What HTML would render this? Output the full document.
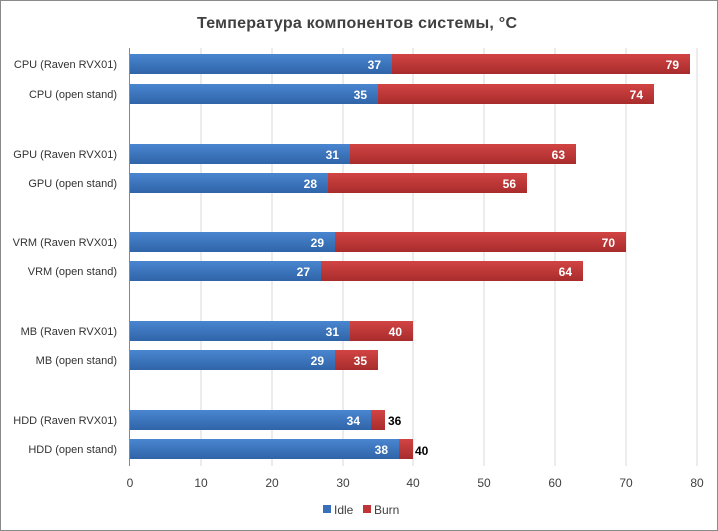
<!DOCTYPE html>
<html><head><meta charset="utf-8"><style>
body{margin:0;background:#fff}
svg{display:block;font-family:"Liberation Sans","DejaVu Sans",sans-serif}
</style></head><body>
<svg width="718" height="531" viewBox="0 0 718 531">
<defs>
<linearGradient id="b" x1="0" y1="0" x2="0" y2="1"><stop offset="0" stop-color="#4a86d0"/><stop offset="1" stop-color="#2f64a8"/></linearGradient>
<linearGradient id="r" x1="0" y1="0" x2="0" y2="1"><stop offset="0" stop-color="#d24444"/><stop offset="1" stop-color="#a82c2c"/></linearGradient>
</defs>
<rect x="0.5" y="0.5" width="717" height="530" fill="#fff" stroke="#8a8a8a"/>
<text x="357" y="28" text-anchor="middle" font-size="16" font-weight="bold" fill="#404040" textLength="320">Температура компонентов системы, °C</text>
<g stroke="#d9d9d9" stroke-width="1">
<line x1="201" y1="48" x2="201" y2="466"/><line x1="272" y1="48" x2="272" y2="466"/><line x1="343" y1="48" x2="343" y2="466"/><line x1="413" y1="48" x2="413" y2="466"/><line x1="484" y1="48" x2="484" y2="466"/><line x1="555" y1="48" x2="555" y2="466"/><line x1="626" y1="48" x2="626" y2="466"/><line x1="697" y1="48" x2="697" y2="466"/>
</g>
<line x1="129.5" y1="48" x2="129.5" y2="466" stroke="#888"/>
<g font-size="12" fill="#404040" text-anchor="middle">
<text x="130" y="487">0</text><text x="201" y="487">10</text><text x="272" y="487">20</text><text x="343" y="487">30</text><text x="413" y="487">40</text><text x="484" y="487">50</text><text x="555" y="487">60</text><text x="626" y="487">70</text><text x="697" y="487">80</text>
</g>
<g font-size="11" fill="#333" text-anchor="end">
<text x="117" y="68">CPU (Raven RVX01)</text><text x="117" y="98">CPU (open stand)</text>
<text x="117" y="158">GPU (Raven RVX01)</text><text x="117" y="187">GPU (open stand)</text>
<text x="117" y="246">VRM (Raven RVX01)</text><text x="117" y="275">VRM (open stand)</text>
<text x="117" y="335">MB (Raven RVX01)</text><text x="117" y="364">MB (open stand)</text>
<text x="117" y="424">HDD (Raven RVX01)</text><text x="117" y="453">HDD (open stand)</text>
</g>
<g>
<rect x="130" y="54" width="560" height="20" fill="url(#r)"/><rect x="130" y="54" width="262" height="20" fill="url(#b)"/>
<rect x="130" y="84" width="524" height="20" fill="url(#r)"/><rect x="130" y="84" width="248" height="20" fill="url(#b)"/>
<rect x="130" y="144" width="446" height="20" fill="url(#r)"/><rect x="130" y="144" width="220" height="20" fill="url(#b)"/>
<rect x="130" y="173" width="397" height="20" fill="url(#r)"/><rect x="130" y="173" width="198" height="20" fill="url(#b)"/>
<rect x="130" y="232" width="496" height="20" fill="url(#r)"/><rect x="130" y="232" width="205" height="20" fill="url(#b)"/>
<rect x="130" y="261" width="453" height="20" fill="url(#r)"/><rect x="130" y="261" width="191" height="20" fill="url(#b)"/>
<rect x="130" y="321" width="283" height="20" fill="url(#r)"/><rect x="130" y="321" width="220" height="20" fill="url(#b)"/>
<rect x="130" y="350" width="248" height="20" fill="url(#r)"/><rect x="130" y="350" width="205" height="20" fill="url(#b)"/>
<rect x="130" y="410" width="255" height="20" fill="url(#r)"/><rect x="130" y="410" width="241" height="20" fill="url(#b)"/>
<rect x="130" y="439" width="283" height="20" fill="url(#r)"/><rect x="130" y="439" width="269" height="20" fill="url(#b)"/>
</g>
<g font-size="12" font-weight="bold" fill="#fff" text-anchor="end">
<text x="381" y="69">37</text><text x="679" y="69">79</text>
<text x="367" y="99">35</text><text x="643" y="99">74</text>
<text x="339" y="159">31</text><text x="565" y="159">63</text>
<text x="317" y="188">28</text><text x="516" y="188">56</text>
<text x="324" y="247">29</text><text x="615" y="247">70</text>
<text x="310" y="276">27</text><text x="572" y="276">64</text>
<text x="339" y="336">31</text><text x="402" y="336">40</text>
<text x="324" y="365">29</text><text x="367" y="365">35</text>
<text x="360" y="425">34</text><text x="388" y="454">38</text>
</g>
<g font-size="12" font-weight="bold" fill="#000">
<text x="388" y="425">36</text><text x="415" y="455">40</text>
</g>
<rect x="323" y="505" width="8" height="8" fill="#3a70b8"/>
<text x="334" y="514" font-size="12" fill="#404040">Idle</text>
<rect x="363" y="505" width="8" height="8" fill="#c03535"/>
<text x="374" y="514" font-size="12" fill="#404040">Burn</text>
</svg>
</body></html>
